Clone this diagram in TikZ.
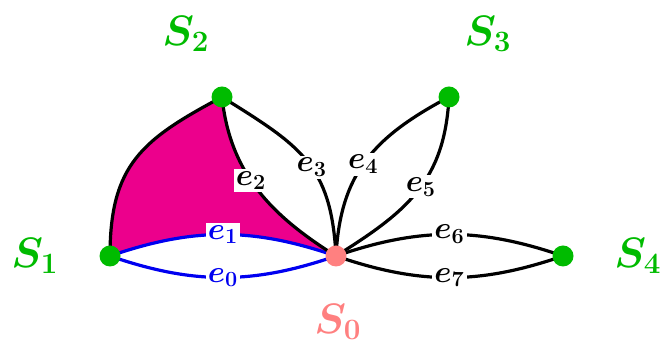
\documentclass[tikz,border=0pt]{standalone}
\usepackage{amsmath}
\definecolor{vgreen}{RGB}{0,187,0}
\definecolor{vpink}{RGB}{255,128,128}
\definecolor{vmag}{RGB}{236,0,140}
\definecolor{vblue}{RGB}{0,0,240}
\begin{document}
\begin{tikzpicture}[x=1pt,y=1pt,
  dot/.style={circle,minimum size=21pt,inner sep=0pt},
  vlab/.style={font=\huge\boldmath,scale=2.05},
  elab/.style={fill=white,inner sep=1.5pt,font=\huge\boldmath,scale=1.5},
  edge/.style={line width=3.2pt},
]
\useasboundingbox (0,0) rectangle (666,344);
% vertices (positions)
\node[dot] (s0) at (336,88) {};
\node[dot] (s1) at (110,88) {};
\node[dot] (s2) at (222,247) {};
\node[dot] (s3) at (449,247) {};
\node[dot] (s4) at (563,88) {};
% magenta face
\fill[vmag] (s1.center) to[out=90,in=208,looseness=1.2] (s2.center) to[out=-84,in=148] (s0.center) to[bend right=19] (s1.center) -- cycle;
% edges
\draw[edge] (s1.center) to[out=90,in=208,looseness=1.2] (s2.center);
\draw[edge,vblue] (s1.center) to[bend left=19] node[elab,pos=0.5,text=vblue] {$e_1$} (s0.center);
\draw[edge,vblue] (s1.center) to[bend right=19] node[elab,pos=0.5,text=vblue] {$e_0$} (s0.center);
\draw[edge] (s2.center) to[out=-84,in=148] node[elab,pos=0.44] {$e_2$} (s0.center);
\draw[edge] (s2.center) to[out=-32,in=93,looseness=1.2] node[elab,pos=0.55] {$e_3$} (s0.center);
\draw[edge] (s0.center) to[out=87,in=208,looseness=1.1] node[elab,pos=0.47] {$e_4$} (s3.center);
\draw[edge] (s0.center) to[out=32,in=267,looseness=1.1] node[elab,pos=0.53] {$e_5$} (s3.center);
\draw[edge] (s0.center) to[bend left=19] node[elab,pos=0.5] {$e_6$} (s4.center);
\draw[edge] (s0.center) to[bend right=19] node[elab,pos=0.5] {$e_7$} (s4.center);
% dots on top
\fill[vpink] (s0) circle (10.5pt);
\foreach \n in {s1,s2,s3,s4} \fill[vgreen] (\n) circle (10.5pt);
% vertex labels
\node[vlab,text=vpink] (l0) at (338,22) {$S_0$};
\node[vlab,text=vgreen] (l1) at (35,88) {$S_1$};
\node[vlab,text=vgreen] (l2) at (186,310) {$S_2$};
\node[vlab,text=vgreen] (l3) at (488,310) {$S_3$};
\node[vlab,text=vgreen] (l4) at (638,88) {$S_4$};
\end{tikzpicture}
\end{document}
